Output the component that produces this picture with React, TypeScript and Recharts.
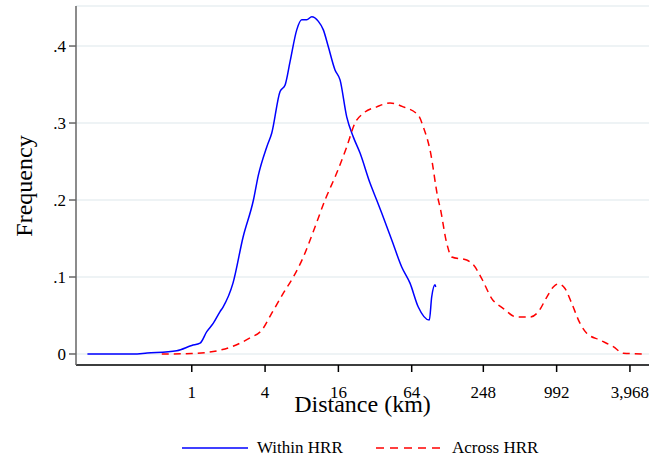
import React from 'react';
import { LineChart, Line, XAxis, YAxis, CartesianGrid, Legend } from 'recharts';

// distance in km (log scale), frequency values
const withinKm = [
  0.139, 0.33, 0.43, 0.753, 1.0, 1.17, 1.328, 1.504, 1.707, 1.807, 2.18, 2.64, 3.21, 3.52, 4.13, 4.54,
  5.31, 5.83, 6.42, 7.28, 8.0, 8.79, 9.67, 10.96, 12.04, 13.23, 15.01, 16.51, 18.73, 21.2, 24.1, 29.1,
  33.0, 36.3, 43.9, 53.0, 62.0, 72.5, 89.3, 93.4, 99.5, 100.8,
];
const withinFreq = [
  0.0, 0.0, 0.0013, 0.0043, 0.011, 0.014, 0.029, 0.04, 0.055, 0.061, 0.092, 0.152, 0.2, 0.232, 0.269, 0.287,
  0.341, 0.349, 0.38, 0.421, 0.434, 0.434, 0.438, 0.432, 0.421, 0.399, 0.369, 0.356, 0.308, 0.282, 0.261, 0.222,
  0.2, 0.183, 0.148, 0.113, 0.092, 0.061, 0.044, 0.074, 0.09, 0.087,
];

const acrossKm = [
  0.567, 1.0, 1.328, 1.707, 2.18, 3.01, 3.76, 4.54, 5.65, 6.83, 8.25, 9.96, 12.43, 15.5, 18.73, 21.9,
  25.6, 33.0, 42.5, 54.7, 72.5, 79.7, 90.5, 105.9, 109.3, 124.1, 136.6, 181.1, 205.2, 240.6, 290.9, 362.3,
  466.8, 600.9, 703, 823.9, 931, 1024, 1162, 1318, 1542, 1752, 2252, 2893, 3499, 5110,
];
const acrossFreq = [
  0, 0.0005, 0.002, 0.005, 0.01, 0.021, 0.031, 0.053, 0.079, 0.1, 0.126, 0.159, 0.2, 0.235, 0.269, 0.3,
  0.3125, 0.321, 0.326, 0.321, 0.31, 0.295, 0.265, 0.2, 0.191, 0.144, 0.126, 0.122, 0.116, 0.098, 0.072, 0.059,
  0.048, 0.048, 0.055, 0.074, 0.087, 0.091, 0.085, 0.066, 0.04, 0.027, 0.018, 0.0095, 0.001, 0,
];

const xTicks = [1, 4, 16, 64, 248, 992, 3968];
const yTicks = [0, 0.1, 0.2, 0.3, 0.4];

const withinData = withinKm.map((km, i) => ({ km, freq: withinFreq[i] }));
const acrossData = acrossKm.map((km, i) => ({ km, freq: acrossFreq[i] }));

const FONT = '"Liberation Serif", "Times New Roman", serif';

const fmtY = (v: number) => (v === 0 ? '0' : v.toFixed(1).replace(/^0/, ''));
const fmtX = (v: number) => v.toLocaleString('en-US');

const LegendContent = () => (
  <div style={{ position: 'relative', height: 24, fontFamily: FONT, fontSize: 17, color: '#000' }}>
    <svg style={{ position: 'absolute', left: 182, top: 0 }} width={66} height={24}>
      <line x1={0} y1={11} x2={66} y2={11} stroke="#0000ff" strokeWidth={1.5} />
    </svg>
    <span style={{ position: 'absolute', left: 257, top: 1 }}>Within HRR</span>
    <svg style={{ position: 'absolute', left: 376, top: 0 }} width={66} height={24}>
      <line x1={0} y1={11} x2={66} y2={11} stroke="#ff0000" strokeWidth={1.5} strokeDasharray="8 6" />
    </svg>
    <span style={{ position: 'absolute', left: 452, top: 1 }}>Across HRR</span>
  </div>
);

export default function App() {
  return (
    <div style={{ position: 'absolute', left: 0, top: 0, background: '#fff' }}>
      <LineChart width={649} height={461} margin={{ top: 6, right: 0, bottom: 0, left: 0 }}>
        <CartesianGrid vertical={false} stroke="#e8eff2" strokeWidth={1.5} />
        <XAxis
          dataKey="km"
          type="number"
          scale="log"
          domain={[0.112, 5690]}
          allowDataOverflow
          ticks={xTicks}
          tickFormatter={fmtX}
          height={96}
          stroke="#000"
          strokeWidth={1.5}
          tickSize={7}
          tickMargin={14}
          tick={{ fill: '#000', fontSize: 17, fontFamily: FONT }}
          label={(props: any) => {
            const vb = props.viewBox;
            return (
              <text x={vb.x + vb.width / 2} y={vb.y + 47} textAnchor="middle" fontSize={24} fontFamily={FONT} fill="#000">
                Distance (km)
              </text>
            );
          }}
        />
        <YAxis
          type="number"
          domain={[-0.0143, 0.452]}
          ticks={yTicks}
          tickFormatter={fmtY}
          width={76}
          stroke="#666"
          strokeWidth={1.5}
          tickSize={7}
          tickMargin={3}
          tick={{ fill: '#000', fontSize: 17, fontFamily: FONT }}
          label={() => (
            <text x={32} y={186} transform="rotate(-90 32 186)" textAnchor="middle" fontSize={24} fontFamily={FONT} fill="#000">
              Frequency
            </text>
          )}
        />
        <Legend
          layout="horizontal"
          verticalAlign="middle"
          align="center"
          content={<LegendContent />}
          wrapperStyle={{ top: 437, left: 0, width: 649 }}
        />
        <Line
          data={withinData}
          dataKey="freq"
          type="monotone"
          stroke="#0000ff"
          strokeWidth={1.5}
          dot={false}
          isAnimationActive={false}
        />
        <Line
          data={acrossData}
          dataKey="freq"
          type="monotone"
          stroke="#ff0000"
          strokeWidth={1.5}
          strokeDasharray="7 5"
          dot={false}
          isAnimationActive={false}
        />
      </LineChart>
    </div>
  );
}
